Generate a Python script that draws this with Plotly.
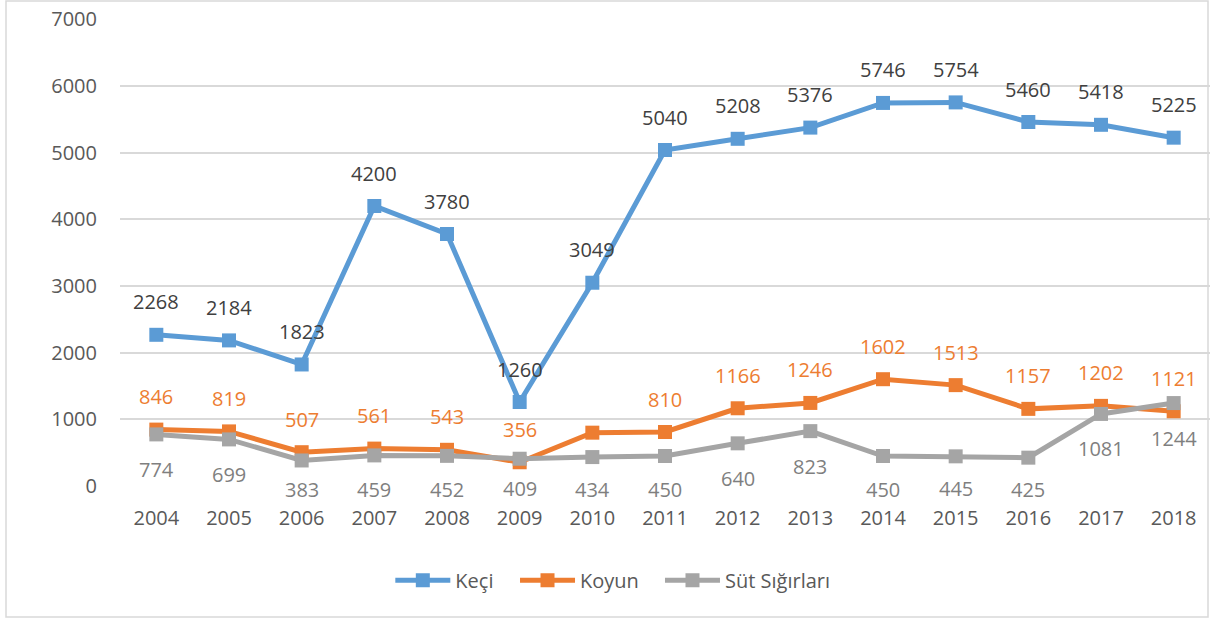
import plotly.graph_objects as go

years = [2004, 2005, 2006, 2007, 2008, 2009, 2010, 2011, 2012, 2013, 2014, 2015, 2016, 2017, 2018]
keci = [2268, 2184, 1823, 4200, 3780, 1260, 3049, 5040, 5208, 5376, 5746, 5754, 5460, 5418, 5225]
koyun = [846, 819, 507, 561, 543, 356, 800, 810, 1166, 1246, 1602, 1513, 1157, 1202, 1121]
koyun_labeled = [True, True, True, True, True, True, False, True, True, True, True, True, True, True, True]
sut = [774, 699, 383, 459, 452, 409, 434, 450, 640, 823, 450, 445, 425, 1081, 1244]
y_ticks = [0, 1000, 2000, 3000, 4000, 5000, 6000, 7000]

FONT = "Open Sans"
FS = 20
W, H = 1210, 619
L, R, T, B = 120, 0, 19, 133
pw, ph = W - L - R, H - T - B
YMAX = 7005

series = [
    ("Keçi", keci, "#5B9BD5", "#404040", 33, [True] * len(keci), "legend", 0.248),
    ("Koyun", koyun, "#ED7D31", "#ED7D31", 33, koyun_labeled, "legend2", 0.3624),
    ("Süt Sığırları", sut, "#A5A5A5", "#7F7F7F", -35, [True] * len(sut), "legend3", 0.4954),
]

def px_per_unit():
    return ph / YMAX

fig = go.Figure()
annotations = []
legends = {}
for name, vals, color, lcolor, shift, show, leg, lx in series:
    fig.add_trace(go.Scatter(
        x=years, y=vals, name=name, mode="lines+markers",
        line=dict(color=color, width=5),
        marker=dict(symbol="square", size=14, color=color),
        legend=leg,
    ))
    legends[leg] = dict(orientation="h", x=lx, xanchor="left", y=-0.16, yanchor="top",
                        font=dict(family=FONT, size=FS, color="#595959"),
                        itemwidth=55, bgcolor="rgba(0,0,0,0)")
    for xv, yv, s in zip(years, vals, show):
        if not s:
            continue
        ys = shift
        if shift < 0:
            # labels below points do not go lower than just above the axis labels
            below_axis = yv * px_per_unit()  # pixels above the zero line
            ys = -min(-shift, below_axis + 3)
            ys = min(ys, -20)
        annotations.append(dict(
            x=xv, y=yv, text=str(yv), showarrow=False, yshift=ys,
            font=dict(family=FONT, size=FS, color=lcolor),
        ))

fig.add_shape(type="rect", xref="paper", yref="paper",
              x0=(6 - L) / pw, x1=(1208 - L) / pw,
              y0=(H - B - 617) / ph, y1=(H - B - 1) / ph,
              line=dict(color="#D9D9D9", width=1.5), layer="below")

fig.update_layout(
    width=W, height=H,
    margin=dict(l=L, r=R, t=T, b=B, autoexpand=False),
    plot_bgcolor="white", paper_bgcolor="white",
    font=dict(family=FONT, size=FS, color="#595959"),
    annotations=annotations,
    showlegend=True,
    xaxis=dict(range=[2003.5, 2018.5], tickmode="array", tickvals=years,
               ticktext=[str(y) for y in years], showgrid=False, zeroline=False,
               showline=False, ticks="", ticklabelstandoff=18,
               tickfont=dict(family=FONT, size=FS, color="#595959")),
    yaxis=dict(range=[0, YMAX], tickmode="array", tickvals=y_ticks,
               showgrid=True, gridcolor="#D9D9D9", gridwidth=1.5,
               zeroline=False, showline=False, ticks="", ticklabelstandoff=22,
               ticklabeloverflow="allow",
               tickfont=dict(family=FONT, size=FS, color="#595959")),
    **legends,
)

fig.write_html("out.html", config={"displayModeBar": False},
               post_script="document.body.style.margin='0px';")
